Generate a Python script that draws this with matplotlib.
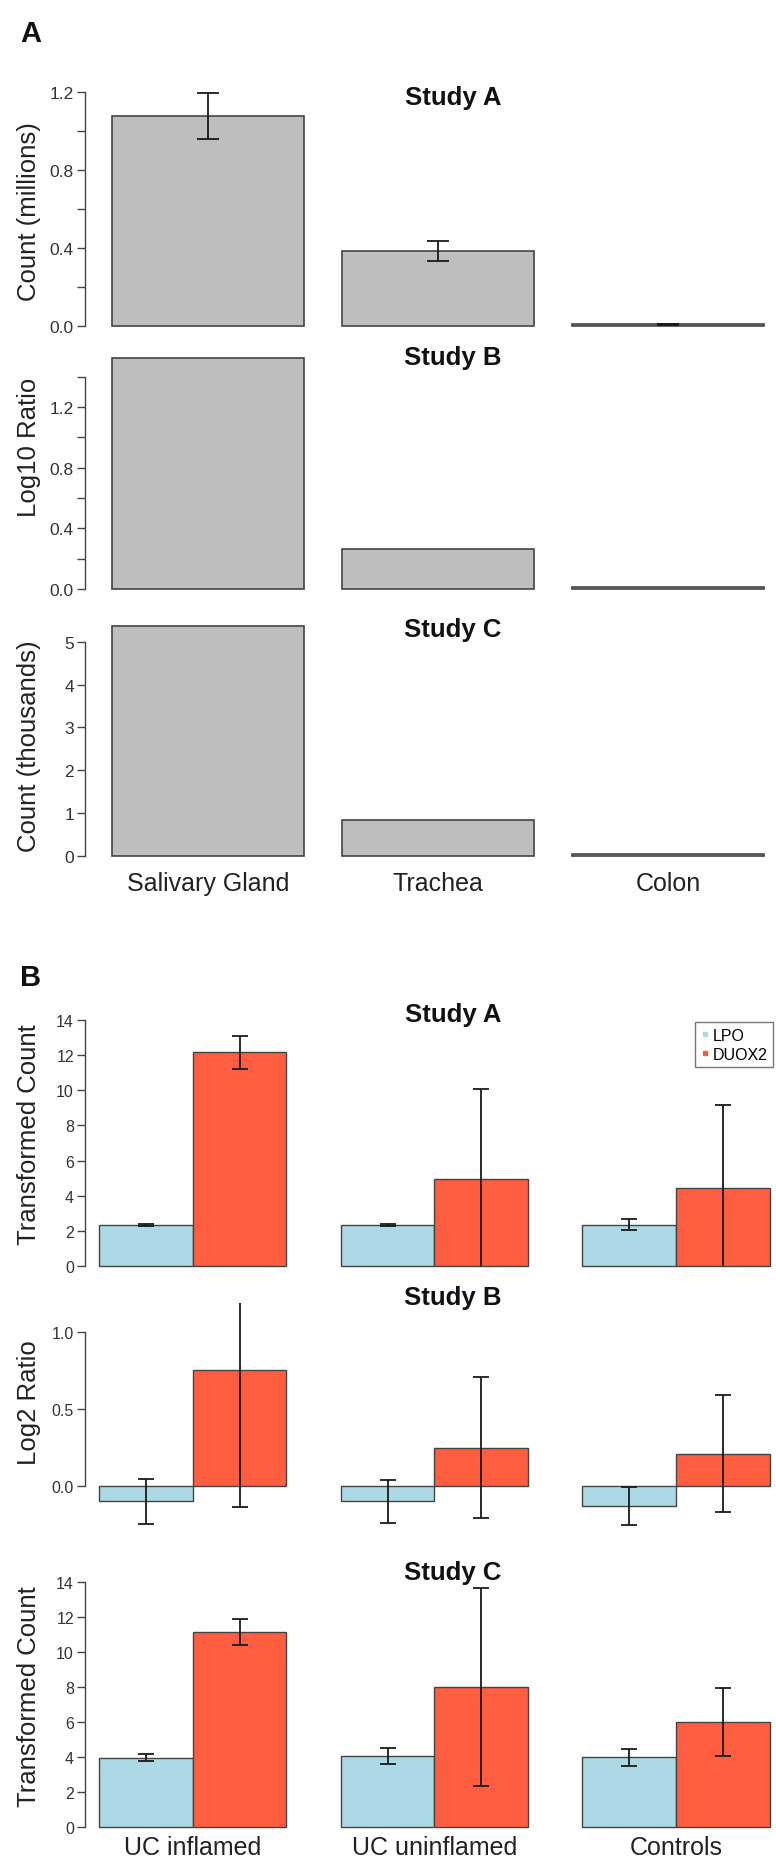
"""
Figura de dos paneles: expresión por tejido (A) y LPO / DUOX2 por grupo (B)
"""
import matplotlib
matplotlib.use('Agg')
import matplotlib.pyplot as plt
import numpy as np
from matplotlib.lines import Line2D

plt.rcParams['font.family'] = ['Liberation Sans', 'DejaVu Sans']

W, H = 776, 1865

# ---- Panel A: tejidos ----
tejidos = ['Salivary Gland', 'Trachea', 'Colon']
a_estudio_a = [1.077, 0.385, 0.008]
a_estudio_a_err = [0.118, 0.05, 0.004]
a_estudio_b = [1.523, 0.264, 0.015]
a_estudio_c = [5.36, 0.85, 0.05]

# ---- Panel B: grupos ----
grupos = ['UC inflamed', 'UC uninflamed', 'Controls']
genes = ['LPO', 'DUOX2']
b_a_lpo = [2.33, 2.33, 2.35]
b_a_lpo_err = [0.05, 0.08, 0.3]
b_a_duox2 = [12.16, 4.94, 4.43]
b_a_duox2_err = [0.95, 5.12, 4.72]
b_b_lpo = [-0.10, -0.10, -0.13]
b_b_lpo_err = [0.145, 0.14, 0.125]
b_b_duox2 = [0.753, 0.25, 0.21]
b_b_duox2_err = [0.89, 0.46, 0.38]
b_c_lpo = [3.97, 4.05, 3.98]
b_c_lpo_err = [0.2, 0.45, 0.48]
b_c_duox2 = [11.14, 8.0, 6.0]
b_c_duox2_err = [0.75, 5.66, 1.94]

GRIS = '#bebebe'
AZUL = '#add8e6'
ROJO = '#ff5d3f'
BORDE = '#444444'
TEXTO = '#222222'


def crear_eje(fig, y_cero, px_unidad, ylim, xlim, x0=85, x1=W):
    abajo = y_cero - ylim[0] * px_unidad
    arriba = y_cero - ylim[1] * px_unidad
    ax = fig.add_axes([x0 / W, 1 - abajo / H, (x1 - x0) / W, (abajo - arriba) / H])
    ax.set_xlim(*xlim)
    ax.set_ylim(*ylim)
    for lado in ['top', 'right', 'bottom']:
        ax.spines[lado].set_visible(False)
    ax.spines['left'].set_color(BORDE)
    ax.spines['left'].set_linewidth(1.0)
    ax.patch.set_visible(False)
    return ax


def ejes_y(ax, ticks, etiquetas, tam):
    ax.set_yticks(ticks)
    ax.set_yticklabels(etiquetas)
    ax.spines['left'].set_bounds(ticks[0], ticks[-1])
    ax.tick_params(axis='y', direction='out', length=6, width=1.0, color=BORDE,
                   labelsize=tam, labelcolor='#333333', pad=2)


fig = plt.figure(figsize=(W / 100, H / 100), dpi=100)

# ---------- Panel A ----------
pos_a = np.arange(3) * 1.2 + 0.2
xlim_a = (0.059, 3.664)
paneles_a = [
    (327, 195.0, (0, 1.22), a_estudio_a, a_estudio_a_err, 'Count (millions)', 98, 212,
     np.round(np.arange(0, 1.21, 0.2), 1), 'Study A'),
    (590, 151.7, (0, 1.56), a_estudio_b, None, 'Log10 Ratio', 358, 447,
     np.round(np.arange(0, 1.41, 0.2), 1), 'Study B'),
    (857, 42.85, (0, 5.42), a_estudio_c, None, 'Count (thousands)', 630, 746,
     np.arange(0, 6), 'Study C'),
]
for i, (y0, ppu, ylim, vals, errs, ylab, y_tit, y_lab, ticks, titulo) in enumerate(paneles_a):
    ax = crear_eje(fig, y0, ppu, ylim, xlim_a)
    ax.bar(pos_a, vals, width=1.0, align='edge', color=GRIS, edgecolor=BORDE,
           linewidth=1.2, clip_on=False)
    if errs is not None:
        ax.errorbar(pos_a + 0.5, vals, yerr=errs, fmt='none', ecolor='#1a1a1a',
                    elinewidth=1.3, capsize=8, capthick=1.3)
    if i < 2:
        etiquetas = [f'{t:.1f}' if j % 2 == 0 else '' for j, t in enumerate(ticks)]
    else:
        etiquetas = [str(t) for t in ticks]
    ejes_y(ax, ticks, etiquetas, 12.5)
    if i == 2:
        ax.set_xticks(pos_a + 0.5)
        ax.set_xticklabels(tejidos, fontsize=18, color=TEXTO)
        ax.tick_params(axis='x', length=0, pad=11)
    else:
        ax.set_xticks([])
    fig.text(453 / W, 1 - y_tit / H, titulo, ha='center', va='center',
             fontsize=18.5, fontweight='bold', color='#111111')
    fig.text(29 / W, 1 - y_lab / H, ylab, ha='center', va='center', rotation=90,
             fontsize=18.5, color=TEXTO)

# ---------- Panel B ----------
pos_b = np.arange(3) * 2.58
xlim_b = (-0.149, 7.225)
paneles_b = [
    (1267, 17.57, (0, 14.4), b_a_lpo, b_a_lpo_err, b_a_duox2, b_a_duox2_err,
     'Transformed Count', 1015, 1135, np.arange(0, 15, 2), 'Study A'),
    (1487, 154.0, (-0.32, 1.19), b_b_lpo, b_b_lpo_err, b_b_duox2, b_b_duox2_err,
     'Log2 Ratio', 1298, 1403, np.array([0.0, 0.5, 1.0]), 'Study B'),
    (1828, 17.5, (0, 14.4), b_c_lpo, b_c_lpo_err, b_c_duox2, b_c_duox2_err,
     'Transformed Count', 1573, 1697, np.arange(0, 15, 2), 'Study C'),
]
for i, (y0, ppu, ylim, lpo, lpo_e, dx, dx_e, ylab, y_tit, y_lab, ticks, titulo) in enumerate(paneles_b):
    ax = crear_eje(fig, y0, ppu, ylim, xlim_b)
    ax.bar(pos_b, lpo, width=1.0, align='edge', color=AZUL, edgecolor=BORDE,
           linewidth=1.0, clip_on=False)
    ax.bar(pos_b + 1, dx, width=1.0, align='edge', color=ROJO, edgecolor=BORDE,
           linewidth=1.0, clip_on=False)
    ax.errorbar(pos_b + 0.5, lpo, yerr=lpo_e, fmt='none', ecolor='#1a1a1a',
                elinewidth=1.3, capsize=6, capthick=1.3)
    ax.errorbar(pos_b + 1.5, dx, yerr=dx_e, fmt='none', ecolor='#1a1a1a',
                elinewidth=1.3, capsize=6, capthick=1.3)
    if i == 1:
        etiquetas = [f'{t:.1f}' for t in ticks]
    else:
        etiquetas = [str(t) for t in ticks]
    ejes_y(ax, ticks, etiquetas, 11.5)
    if i == 2:
        ax.set_xticks(pos_b + 1)
        ax.set_xticklabels(grupos, fontsize=18, color=TEXTO)
        ax.tick_params(axis='x', length=0, pad=6)
    else:
        ax.set_xticks([])
    fig.text(453 / W, 1 - y_tit / H, titulo, ha='center', va='center',
             fontsize=18.5, fontweight='bold', color='#111111')
    fig.text(29 / W, 1 - y_lab / H, ylab, ha='center', va='center', rotation=90,
             fontsize=18.5, color=TEXTO)

# leyenda
manejadores = [Line2D([], [], marker='s', linestyle='none', color=c, markersize=3.5)
               for c in (AZUL, ROJO)]
fig.legend(manejadores, genes, loc='upper right',
           bbox_to_anchor=(773 / W, 1 - 1023 / H), fontsize=11.5, frameon=True,
           fancybox=False, edgecolor='#555555', handlelength=0.5, handletextpad=0.25,
           borderpad=0.35, labelspacing=0.25, borderaxespad=0)

# etiquetas de panel
fig.text(20 / W, 1 - 34 / H, 'A', ha='left', va='center', fontsize=21,
         fontweight='bold', color='#111111')
fig.text(20 / W, 1 - 978 / H, 'B', ha='left', va='center', fontsize=21,
         fontweight='bold', color='#111111')

fig.savefig('out.png', dpi=100)
